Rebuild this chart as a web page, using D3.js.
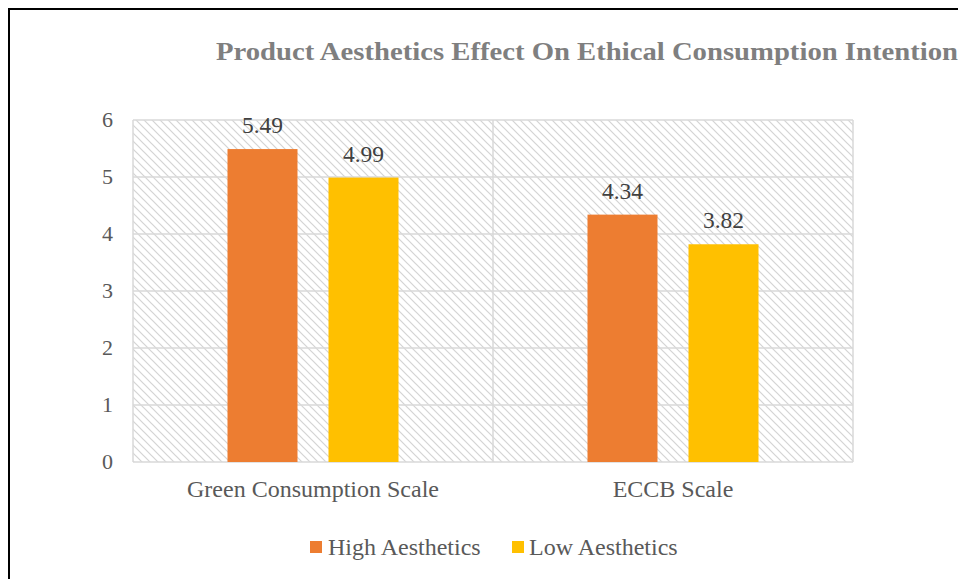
<!DOCTYPE html>
<html><head><meta charset="utf-8">
<script src="https://cdn.jsdelivr.net/npm/d3@7/dist/d3.min.js"></script>
<style>body{margin:0;background:#fff}svg{display:block}</style>
</head><body>
<script>
const categories = ["Green Consumption Scale", "ECCB Scale"];
const seriesNames = ["High Aesthetics", "Low Aesthetics"];
const highValues = [5.49, 4.34];
const lowValues = [4.99, 3.82];
const yTicks = [0, 1, 2, 3, 4, 5, 6];
const colors = ["#ED7D31", "#FFC000"];
const title = "Product Aesthetics Effect On Ethical Consumption Intentions";

const W = 958, H = 579;
const svg = d3.select("body").append("svg").attr("width", W).attr("height", H);
const defs = svg.append("defs");
const pat = defs.append("pattern").attr("id", "hatch").attr("patternUnits", "userSpaceOnUse")
  .attr("width", 8).attr("height", 8);
pat.append("rect").attr("width", 8).attr("height", 8).attr("fill", "#fff");
pat.append("path").attr("d", "M-2,-2 L10,10 M-2,6 L2,10 M6,-2 L10,2")
  .attr("stroke", "#d4d4d4").attr("stroke-width", 1.2);

svg.append("rect").attr("x", 9).attr("y", 9).attr("width", W + 20).attr("height", H + 20)
  .attr("fill", "none").attr("stroke", "#000").attr("stroke-width", 2);

const FONT = "Liberation Serif, Times New Roman, serif";
const m = {left: 133, right: 853, top: 120, bottom: 462};

// title: sized so that "...Intention" ends at the right edge as in the reference
const t = svg.append("text").attr("x", 216).attr("y", 60)
  .style("font-family", FONT).style("font-weight", "bold").style("font-size", "26px")
  .attr("fill", "#7f7f7f").text(title.slice(0, -1));
const partial = t.node().getComputedTextLength();
t.text(title);
const full = t.node().getComputedTextLength();
t.attr("textLength", 742 * full / partial).attr("lengthAdjust", "spacingAndGlyphs");

const x0 = d3.scaleBand().domain(categories).range([m.left, m.right]);
const y = d3.scaleLinear().domain([0, 6]).range([m.bottom, m.top]);

svg.append("rect").attr("x", m.left).attr("y", m.top).attr("width", m.right - m.left)
  .attr("height", m.bottom - m.top).attr("fill", "url(#hatch)");

svg.append("g").selectAll("line").data(yTicks).join("line")
  .attr("x1", m.left).attr("x2", m.right)
  .attr("y1", d => y(d)).attr("y2", d => y(d))
  .attr("stroke", "#d9d9d9").attr("stroke-width", 1.5);
const vx = categories.map(c => x0(c)).concat([m.right]);
svg.append("g").selectAll("line").data(vx).join("line")
  .attr("x1", d => d).attr("x2", d => d).attr("y1", m.top).attr("y2", m.bottom)
  .attr("stroke", "#d9d9d9").attr("stroke-width", 1.5);

function label(sel, size) {
  return sel.style("font-family", FONT).style("font-size", size + "px");
}

label(svg.append("g").selectAll("text").data(yTicks).join("text"), 22)
  .attr("x", 113).attr("y", d => y(d) + 7).attr("text-anchor", "end")
  .attr("fill", "#595959").text(d => d);

const barW = 70, gap = 31;
const g = svg.append("g");
categories.forEach((c, i) => {
  const cx = x0(c) + x0.bandwidth() / 2;
  [highValues[i], lowValues[i]].forEach((v, j) => {
    const bx = j === 0 ? cx - gap / 2 - barW : cx + gap / 2;
    g.append("rect").attr("x", bx).attr("y", y(v)).attr("width", barW)
      .attr("height", y(0) - y(v)).attr("fill", colors[j]);
    label(g.append("text"), 23.5).attr("x", bx + barW / 2).attr("y", y(v) - 16).attr("text-anchor", "middle")
      .attr("fill", "#404040").text(v.toFixed(2));
  });
});

label(svg.append("g").selectAll("text").data(categories).join("text"), 24)
  .attr("x", d => x0(d) + x0.bandwidth() / 2).attr("y", 497).attr("text-anchor", "middle")
  .attr("fill", "#595959").text(d => d);

const leg = [{x: 310, tx: 328}, {x: 512, tx: 529}];
seriesNames.forEach((s, i) => {
  svg.append("rect").attr("x", leg[i].x).attr("y", 541).attr("width", 12).attr("height", 12).attr("fill", colors[i]);
  label(svg.append("text"), 24).attr("x", leg[i].tx).attr("y", 555)
    .attr("fill", "#595959").text(s);
});
</script>
</body></html>
